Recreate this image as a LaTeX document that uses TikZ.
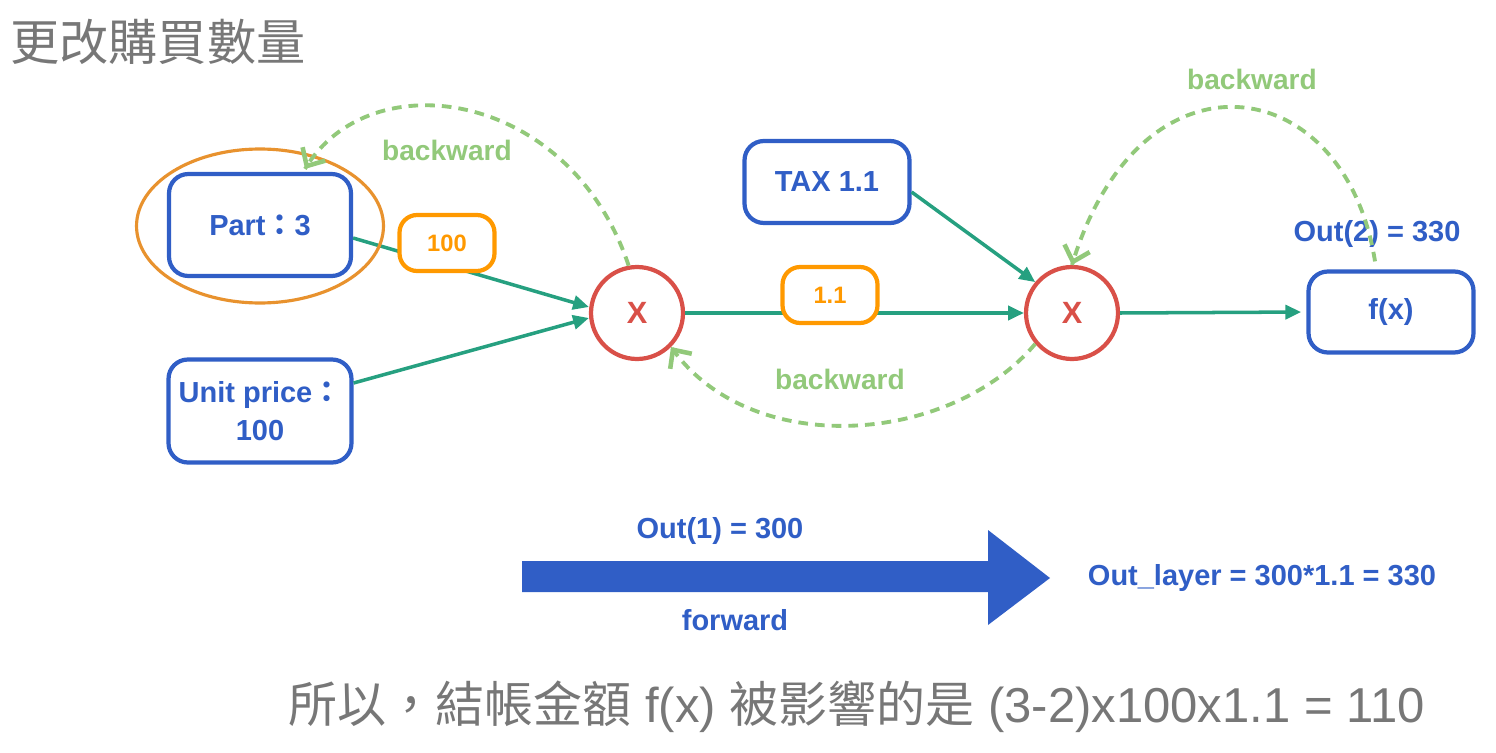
\documentclass[tikz,border=0pt]{standalone}
\usepackage{fontspec}
\setmainfont{Liberation Sans}
\newfontfamily\cjk{Noto Sans CJK TC}
\usetikzlibrary{arrows.meta,shapes.geometric,calc}
\definecolor{nblue}{RGB}{48,94,198}
\definecolor{nred}{RGB}{217,80,72}
\definecolor{norange}{RGB}{255,153,0}
\definecolor{eorange}{RGB}{232,146,46}
\definecolor{nteal}{RGB}{38,160,128}
\definecolor{ngreen}{RGB}{146,201,122}
\definecolor{ngray}{RGB}{119,119,119}
\begin{document}
\begin{tikzpicture}[x=0.02cm,y=-0.02cm,
  bluebox/.style={draw=nblue,line width=2.4pt,rounded corners=11pt,fill=white,text=nblue,
    font=\bfseries\fontsize{16.5}{22}\selectfont,align=center,inner sep=0pt},
  obox/.style={draw=norange,line width=2.4pt,rounded corners=10pt,fill=white,text=norange,
    font=\bfseries\fontsize{13.5}{16}\selectfont,minimum width=1.9cm,minimum height=1.12cm,inner sep=0pt},
  mulnode/.style={circle,draw=nred,line width=2.4pt,fill=white,text=nred,
    font=\bfseries\fontsize{17.5}{20}\selectfont,minimum size=1.84cm,inner sep=0pt},
  bluelabel/.style={text=nblue,font=\bfseries\fontsize{16.5}{20}\selectfont,inner sep=0pt},
  greenlabel/.style={text=ngreen,font=\bfseries\fontsize{16}{20}\selectfont,inner sep=0pt},
  flow/.style={draw=nteal,line width=2pt,-{Triangle[length=9pt,width=8pt]}},
  back/.style={draw=ngreen,line width=2.2pt,dash pattern=on 5.5pt off 4pt},
  backtip/.style={draw=ngreen,line width=2.6pt,solid,
    -{Straight Barb[length=8pt,width=15pt,line width=2.6pt]}},
  graytext/.style={text=ngray,inner sep=0pt,anchor=west}
]
\useasboundingbox (0,0) rectangle (1496,753);

% title
\node[graytext,font=\cjk\fontsize{28}{32}\selectfont] (title) at (10,42) {更改購買數量};

% main nodes
\node[bluebox,minimum width=3.64cm,minimum height=2.04cm] (part) at (260,225) {Part{\cjk ：}3};
\node[bluebox,minimum width=3.66cm,minimum height=2.06cm] (unit) at (260,411) {Unit price{\cjk ：}\\100};
\node[mulnode] (x1) at (637,313) {X};
\node[mulnode] (x2) at (1072,313) {X};
\node[bluebox,minimum width=3.3cm,minimum height=1.64cm] (tax) at (827,182) {TAX 1.1};
\node[bluebox,minimum width=3.3cm,minimum height=1.62cm] (fx) at (1391,312) {f(x)};

% forward connectors
\draw[flow] ($(part.east)+(0,13)$) -- ($(x1.west)+(0,-6)$);
\draw[flow] ($(unit.east)+(0,-28)$) -- ($(x1.west)+(0,5)$);
\draw[flow] (x1.east) -- (x2.west);
\draw[flow] ($(tax.east)+(0,10)$) -- (x2.140);
\draw[flow,shorten >=3pt] (x2.east) -- (fx.west);

% value boxes on the connectors
\node[obox] (v100) at (447,243) {100};
\node[obox] (v11) at (830,295) {1.1};

% highlight ellipse
\node[ellipse,draw=eorange,line width=1.8pt,minimum width=4.94cm,minimum height=3.08cm,inner sep=0pt] (focus) at (260,226) {};

% labels
\node[bluelabel] (out2) at (1377,234) {Out(2) = 330};
\node[greenlabel] (bw1) at (447,150) {backward};
\node[greenlabel] (bw2) at (840,379) {backward};
\node[greenlabel] (bw3) at (1252,79) {backward};

% backward connectors (dashed curve + solid tip along the end tangent)
\coordinate (fxtop) at ($(fx.north)+(-16,-8)$);
\coordinate (parttop) at ($(part.north)+(45,-3)$);
\coordinate (c1) at (370,60);
\coordinate (c2) at (750,460);
\coordinate (c3) at (1140,40);
\draw[back] (x1.100) .. controls (570,90) and (c1) .. (parttop);
\draw[backtip] ($(parttop)!2pt!(c1)$) -- (parttop);
\draw[back] (x2.220) .. controls (950,445) and (c2) .. (x1.-45);
\draw[backtip] ($(x1.-45)!2pt!(c2)$) -- (x1.-45);
\draw[back] (fxtop) .. controls (1345,70) and (c3) .. (x2.north);
\draw[backtip] ($(x2.north)!2pt!(c3)$) -- (x2.north);

% forward big arrow
\fill[nblue] (522,561) -- (988,561) -- (988,530) -- (1050,578) -- (988,625) -- (988,592) -- (522,592) -- cycle;
\node[bluelabel] (out1) at (720,531) {Out(1) = 300};
\node[bluelabel] (fwd) at (735,620) {forward};
\node[bluelabel] (outlayer) at (1262,578) {Out\_layer = 300*1.1 = 330};

% bottom sentence
\node[graytext,font=\fontsize{27.9}{32}\selectfont] (summary) at (288,707)
  {{\cjk 所以，結帳金額} f(x) {\cjk 被影響的是} (3-2)x100x1.1 = 110};
\end{tikzpicture}
\end{document}
